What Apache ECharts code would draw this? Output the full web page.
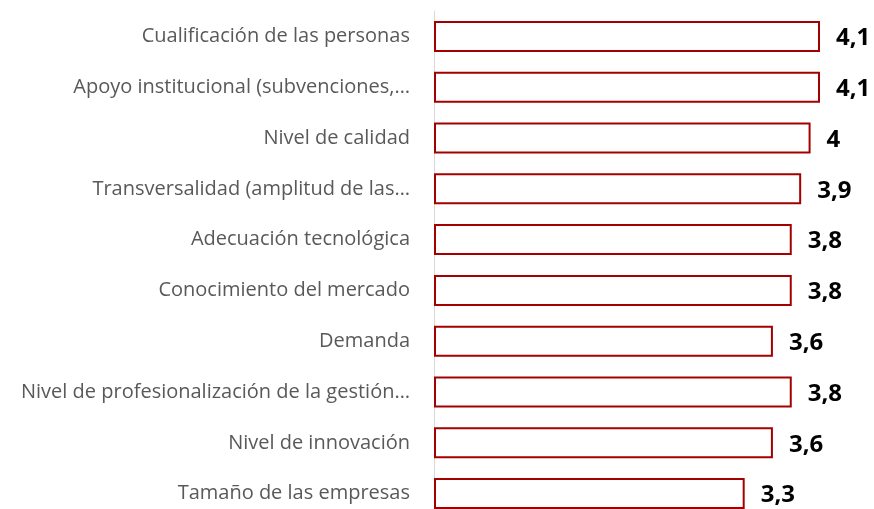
<!DOCTYPE html>
<html>
<head>
<meta charset="utf-8">
<script src="https://cdn.jsdelivr.net/npm/echarts@6/dist/echarts.min.js"></script>
<style>
  html, body { margin: 0; padding: 0; background: #fff; overflow: hidden; }
  #chart { width: 874px; height: 520px; }
</style>
</head>
<body>
<div id="chart"></div>
<script>
// Factores valorados (escala 1-5)
const categories = [
  'Cualificación de las personas',
  'Apoyo institucional (subvenciones,…',
  'Nivel de calidad',
  'Transversalidad (amplitud de las…',
  'Adecuación tecnológica',
  'Conocimiento del mercado',
  'Demanda',
  'Nivel de profesionalización de la gestión…',
  'Nivel de innovación',
  'Tamaño de las empresas'
];
const values = [4.1, 4.1, 4, 3.9, 3.8, 3.8, 3.6, 3.8, 3.6, 3.3];

const fmt = v => String(v).replace('.', ',');

// el gráfico original está recortado por abajo: el contenedor es más alto que la ventana
const chart = echarts.init(document.getElementById('chart'), null, { renderer: 'canvas' });
chart.setOption({
  animation: false,
  grid: { left: 434, top: 11, right: 54, bottom: 1, containLabel: false },
  xAxis: {
    type: 'value', min: 0, max: 4.1,
    show: false
  },
  yAxis: {
    type: 'category', data: categories, inverse: true,
    axisLine: { show: true, lineStyle: { color: '#d9d9d9', width: 1 } },
    axisTick: { show: false },
    axisLabel: {
      color: '#595959', fontSize: 20, margin: 24,
      fontFamily: 'Open Sans, Noto Sans, sans-serif'
    }
  },
  series: [{
    type: 'bar', data: values, barWidth: 31,
    itemStyle: { color: '#ffffff', borderColor: '#a50000', borderWidth: 2 },
    label: {
      show: true, position: 'right', distance: 16,
      formatter: p => fmt(p.value),
      color: '#000', fontSize: 24, fontWeight: 'bold',
      fontFamily: 'Open Sans, Noto Sans, sans-serif',
      offset: [0, 2]
    }
  }]
});
</script>
</body>
</html>
